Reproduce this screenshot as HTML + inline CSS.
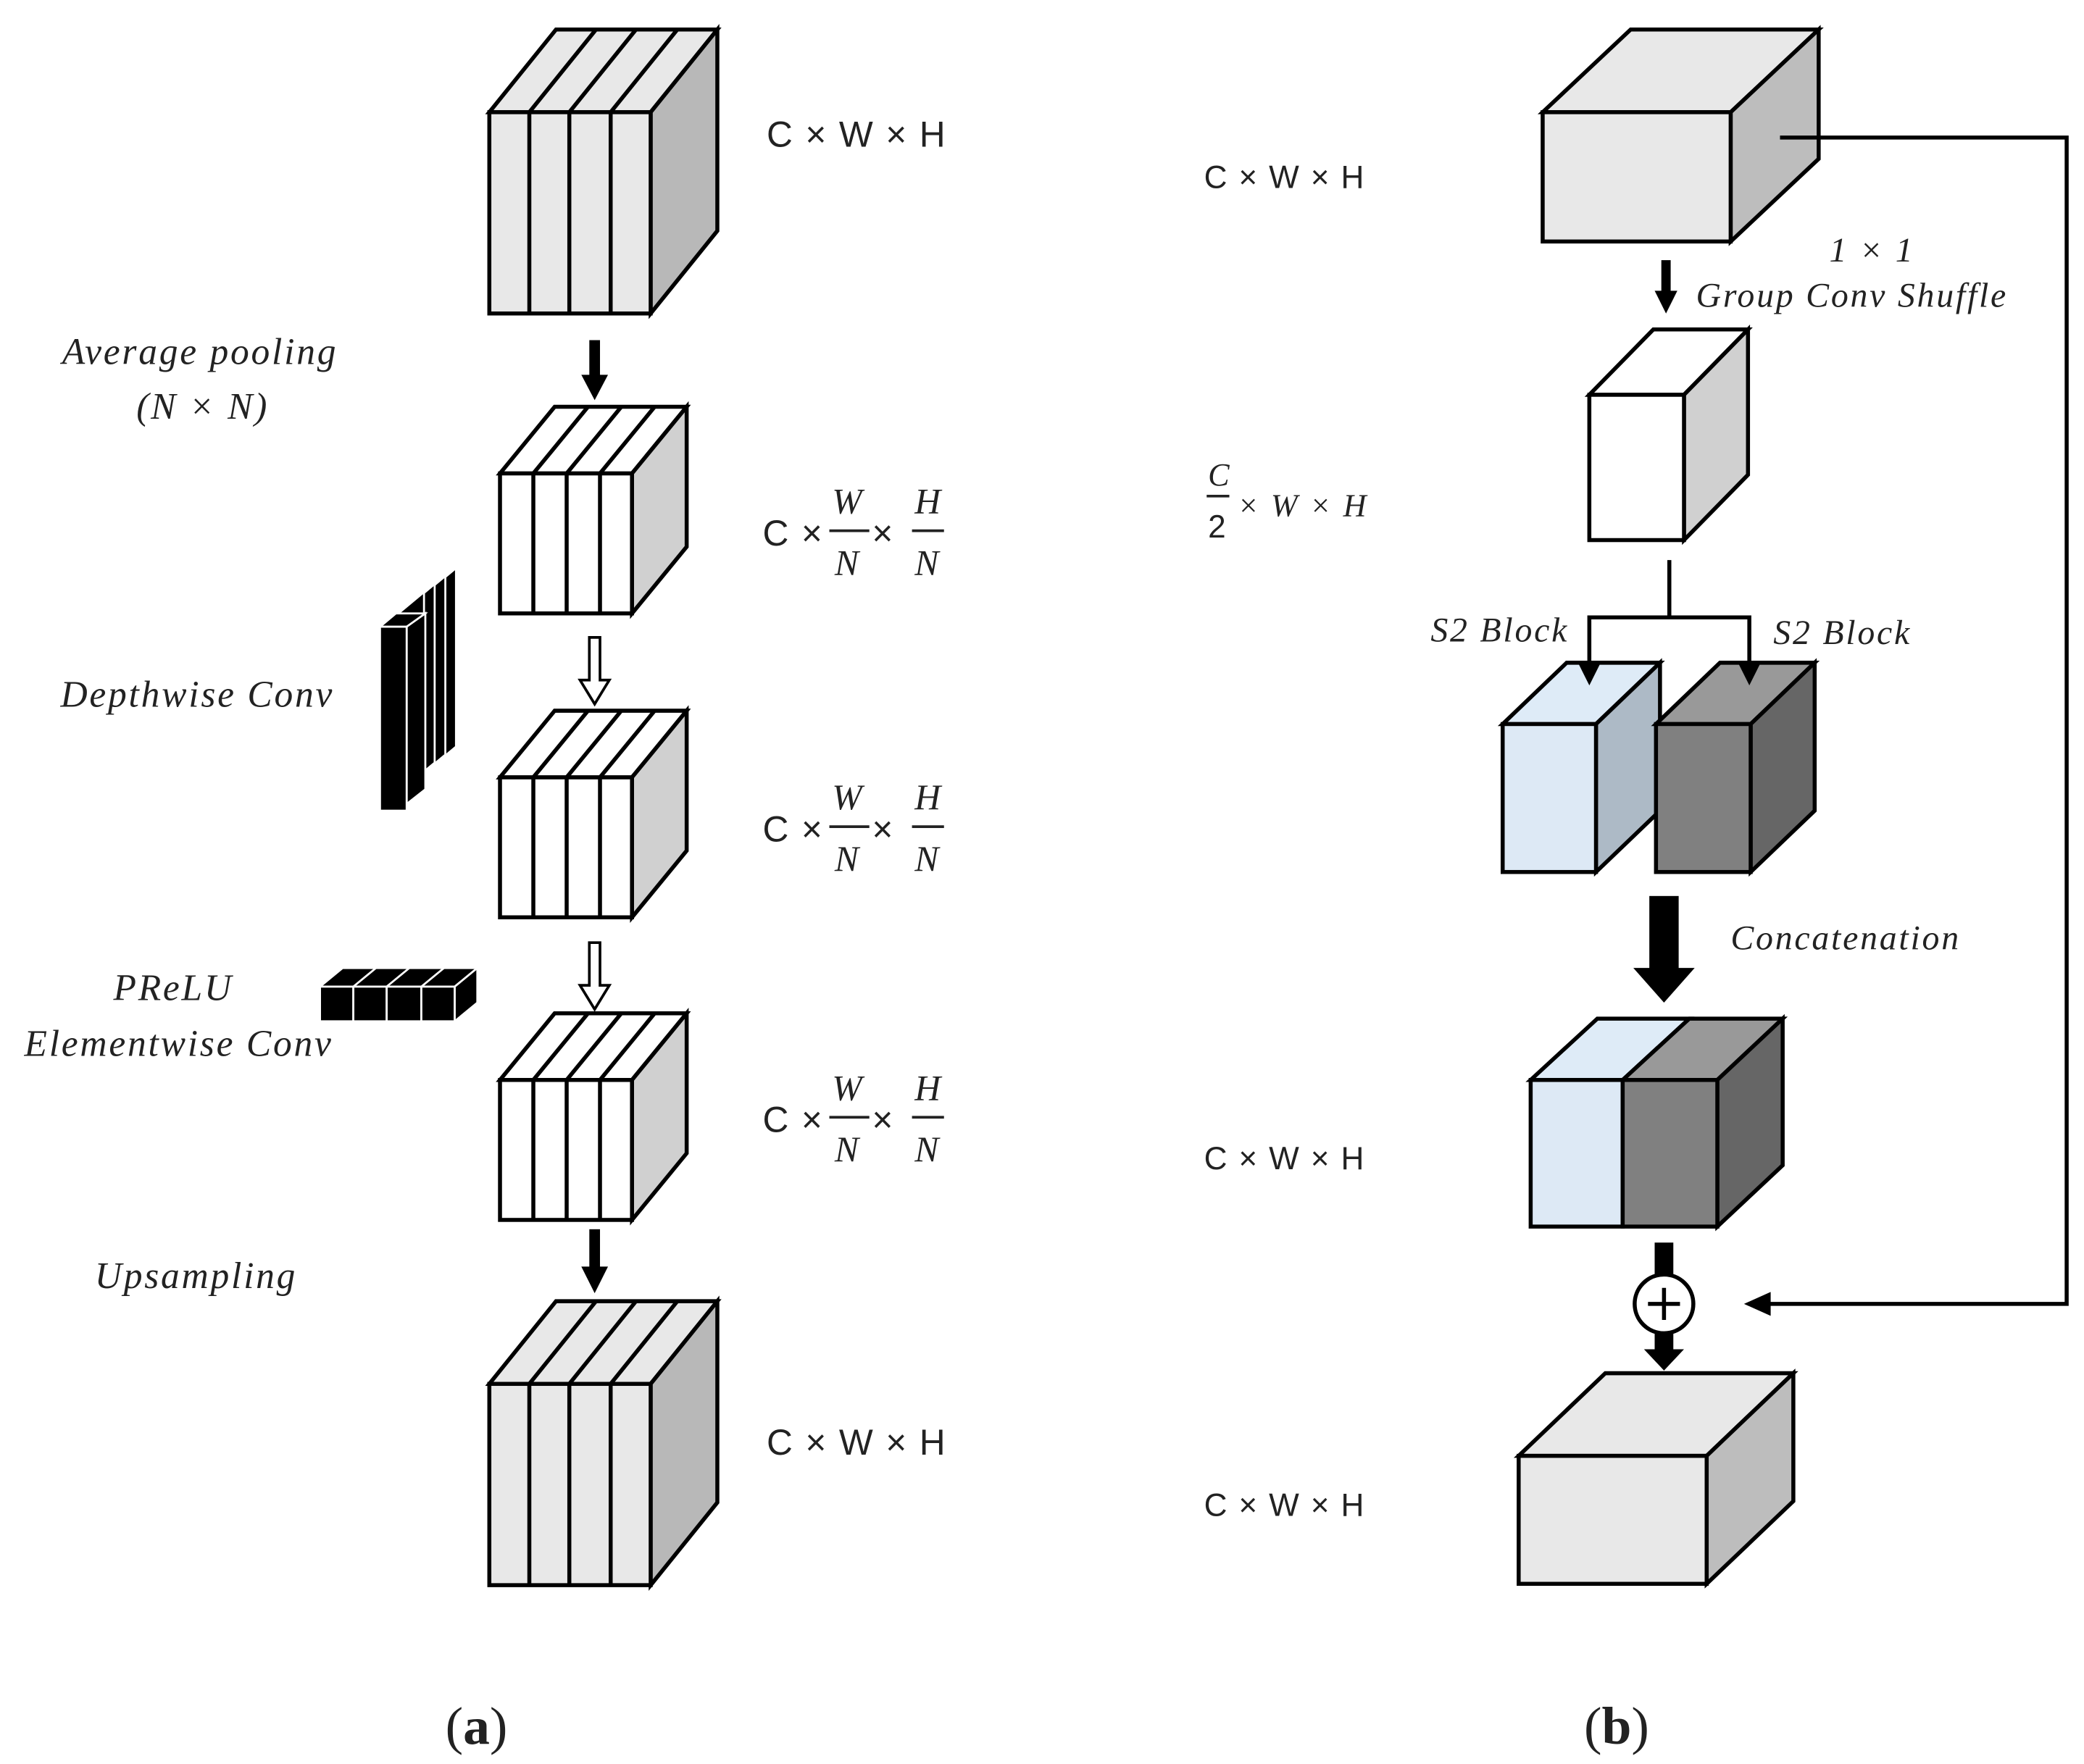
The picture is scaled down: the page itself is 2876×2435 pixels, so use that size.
<!DOCTYPE html>
<html><head><meta charset="utf-8"><style>
html,body{margin:0;padding:0;background:#fff}
svg{display:block}
text{font-family:"Liberation Serif",serif;fill:#222}
.i{font-style:italic;letter-spacing:1.5px}
.s{font-family:"Liberation Sans",sans-serif;letter-spacing:1px}
</style></head><body>
<svg width="2876" height="2435" viewBox="0 0 1563 1323" xmlns="http://www.w3.org/2000/svg">
<g stroke="#000" stroke-width="3" stroke-linejoin="miter">
<g id="c1">
<polygon points="367,84 417,22 538,22 488,84" fill="#e8e8e8"/>
<polygon points="488,84 538,22 538,173 488,235" fill="#b8b8b8"/>
<rect x="367" y="84" width="121" height="151" fill="#e8e8e8"/>
<line x1="397" y1="84" x2="397" y2="235"/><line x1="427" y1="84" x2="427" y2="235"/><line x1="458" y1="84" x2="458" y2="235"/>
<line x1="397" y1="84" x2="447" y2="22"/><line x1="427" y1="84" x2="477" y2="22"/><line x1="458" y1="84" x2="508" y2="22"/>
</g>
<use href="#c1" transform="translate(0,954)"/>
<g id="c2">
<polygon points="375,355 416,305 515,305 474,355" fill="#fff"/>
<polygon points="474,355 515,305 515,410 474,460" fill="#d0d0d0"/>
<rect x="375" y="355" width="99" height="105" fill="#fff"/>
<line x1="400" y1="355" x2="400" y2="460"/><line x1="425" y1="355" x2="425" y2="460"/><line x1="450" y1="355" x2="450" y2="460"/>
<line x1="400" y1="355" x2="441" y2="305"/><line x1="425" y1="355" x2="466" y2="305"/><line x1="450" y1="355" x2="491" y2="305"/>
</g>
<use href="#c2" transform="translate(0,228)"/>
<use href="#c2" transform="translate(0,455)"/>
</g>
<rect x="442" y="255" width="8" height="28" fill="#000"/><polygon points="436,281 456,281 446,300" fill="#000"/>
<rect x="442" y="922" width="8" height="30" fill="#000"/><polygon points="436,950 456,950 446,970" fill="#000"/>
<g fill="#fff" stroke="#000" stroke-width="2">
<polygon points="442,478 450,478 450,510 457,510 446,528 435,510 442,510"/>
<polygon points="442,707 450,707 450,739 457,739 446,757 435,739 442,739"/>
</g>
<g fill="#000" stroke="#fff" stroke-width="1.5">
<polygon points="318,446 330,436 342,426 342,560 318,580"/>
<polygon points="310,452 322,442 334,432 334,566 310,586"/>
<polygon points="302,458 314,448 326,438 326,572 302,592"/>
<polygon points="294,464 306,454 318,444 318,578 294,598"/>
<polygon points="285,470 297,460 319,460 307,470"/>
<polygon points="305,470 319,460 319,592 305,603"/>
<rect x="285" y="470" width="20" height="138"/>
</g>
<g fill="#000" stroke="#fff" stroke-width="1.5">
<polygon points="240,740 257,726 358,726 341,740"/>
<polygon points="341,740 358,726 358,752 341,766"/>
<rect x="240" y="740" width="25" height="26"/><rect x="265" y="740" width="25" height="26"/>
<rect x="290" y="740" width="26" height="26"/><rect x="316" y="740" width="25" height="26"/>
<line x1="265" y1="740" x2="282" y2="726"/><line x1="290" y1="740" x2="307" y2="726"/><line x1="316" y1="740" x2="333" y2="726"/>
</g>
<text x="575" y="110" class="s" font-size="27">C × W × H</text>
<text x="575" y="1091" class="s" font-size="27">C × W × H</text>
<g font-size="27">
<g id="frac">
<text x="572" y="409" class="s">C ×</text>
<text x="624" y="385" class="i">W</text><line x1="622" y1="398" x2="652" y2="398" stroke="#222" stroke-width="2"/>
<text x="626" y="431" class="i">N</text>
<text x="654" y="409" class="s">×</text>
<text x="686" y="385" class="i">H</text><line x1="684" y1="398" x2="708" y2="398" stroke="#222" stroke-width="2"/>
<text x="686" y="431" class="i">N</text>
</g>
<use href="#frac" transform="translate(0,222)"/>
<use href="#frac" transform="translate(0,440)"/>
</g>
<g font-size="28" class="i" text-anchor="middle">
<text x="150" y="273">Average pooling</text>
<text x="152" y="314">(N × N)</text>
<text x="148" y="530">Depthwise Conv</text>
<text x="130" y="750">PReLU</text>
<text x="134" y="792">Elementwise Conv</text>
<text x="147" y="966">Upsampling</text>
</g>
<g stroke="#000" stroke-width="3">
<polygon points="1157,84 1223,22 1364,22 1298,84" fill="#e8e8e8"/>
<polygon points="1298,84 1364,22 1364,119 1298,181" fill="#bdbdbd"/>
<rect x="1157" y="84" width="141" height="97" fill="#e8e8e8"/>
<polygon points="1192,296 1240,247 1311,247 1263,296" fill="#fff"/>
<polygon points="1263,296 1311,247 1311,356 1263,405" fill="#d0d0d0"/>
<rect x="1192" y="296" width="71" height="109" fill="#fff"/>
<polygon points="1127,543 1175,497 1245,497 1197,543" fill="#deebf7"/>
<polygon points="1197,543 1245,497 1245,608 1197,654" fill="#adbac6"/>
<rect x="1127" y="543" width="70" height="111" fill="#dde9f5"/>
<polygon points="1242,543 1290,497 1361,497 1313,543" fill="#999"/>
<polygon points="1313,543 1361,497 1361,608 1313,654" fill="#666"/>
<rect x="1242" y="543" width="71" height="111" fill="#808080"/>
<polygon points="1148,810 1198,764 1267,764 1217,810" fill="#deebf7"/>
<polygon points="1217,810 1267,764 1337,764 1288,810" fill="#999"/>
<polygon points="1288,810 1337,764 1337,874 1288,920" fill="#666"/>
<rect x="1148" y="810" width="69" height="110" fill="#dde9f5"/>
<rect x="1217" y="810" width="71" height="110" fill="#808080"/>
<polygon points="1139,1092 1204,1030 1345,1030 1280,1092" fill="#e8e8e8"/>
<polygon points="1280,1092 1345,1030 1345,1126 1280,1188" fill="#bdbdbd"/>
<rect x="1139" y="1092" width="141" height="96" fill="#e8e8e8"/>
</g>
<rect x="1246" y="195" width="7" height="24" fill="#000"/><polygon points="1241,218 1258,218 1249.5,235" fill="#000"/>
<g stroke="#000" stroke-width="3" fill="none">
<polyline points="1252,420 1252,463"/>
<polyline points="1192,500 1192,463 1312,463 1312,500"/>
<polyline points="1335,103 1550,103 1550,978 1325,978"/>
</g>
<polygon points="1184,498 1200,498 1192,514" fill="#000"/>
<polygon points="1304,498 1320,498 1312,514" fill="#000"/>
<polygon points="1308,978 1328,969 1328,987" fill="#000"/>
<rect x="1237" y="672" width="22" height="56" fill="#000"/><polygon points="1225,726 1271,726 1248,752" fill="#000"/>
<rect x="1241" y="932" width="14" height="26" fill="#000"/>
<circle cx="1248" cy="978" r="22" fill="#fff" stroke="#000" stroke-width="3"/>
<line x1="1236" y1="978" x2="1260" y2="978" stroke="#000" stroke-width="3"/><line x1="1248" y1="966" x2="1248" y2="990" stroke="#000" stroke-width="3"/>
<rect x="1241" y="999" width="14" height="14" fill="#000"/><polygon points="1233,1012 1263,1012 1248,1028" fill="#000"/>
<g font-size="24">
<text x="903" y="141" class="s">C × W × H</text>
<text x="903" y="877" class="s">C × W × H</text>
<text x="903" y="1137" class="s">C × W × H</text>
<text x="906" y="364" class="i">C</text><line x1="905" y1="372" x2="922" y2="372" stroke="#222" stroke-width="2"/>
<text x="906" y="403" class="s">2</text>
<text x="928" y="387" class="i">× W × H</text>
</g>
<g font-size="26" class="i">
<text x="1372" y="196">1 × 1</text>
<text x="1272" y="230">Group Conv Shuffle</text>
<text x="1073" y="481">S2 Block</text>
<text x="1330" y="483">S2 Block</text>
<text x="1298" y="712">Concatenation</text>
</g>
<g font-size="40">
<text x="334" y="1308">(<tspan font-weight="bold">a</tspan>)</text>
<text x="1188" y="1308">(<tspan font-weight="bold">b</tspan>)</text>
</g>
</svg>
</body></html>
